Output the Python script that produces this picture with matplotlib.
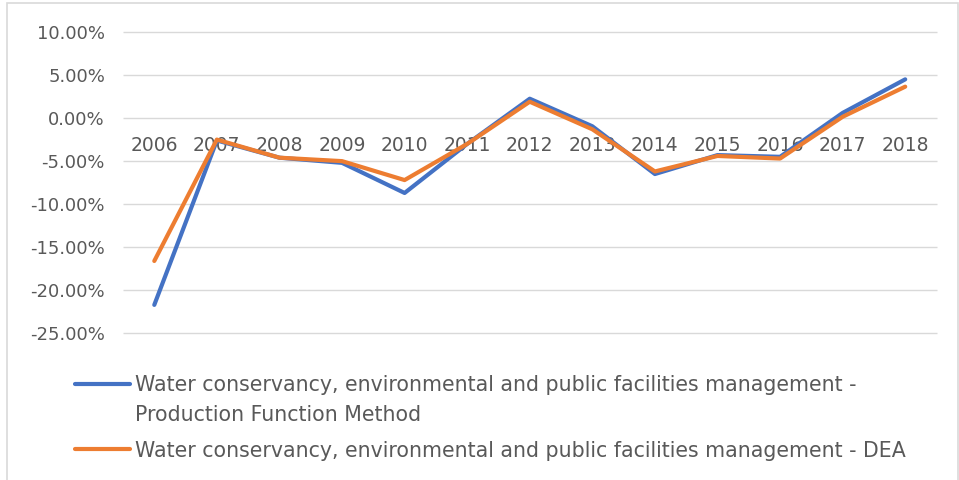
import matplotlib
matplotlib.use("Agg")
import matplotlib.pyplot as plt
from matplotlib.legend_handler import HandlerLine2D
from matplotlib.patches import Rectangle
from matplotlib.ticker import FuncFormatter, MultipleLocator

# Annual change rates (%) by estimation method
years = ["2006", "2007", "2008", "2009", "2010", "2011", "2012",
         "2013", "2014", "2015", "2016", "2017", "2018"]
production_function = [-21.7, -2.6, -4.6, -5.2, -8.7, -3.0, 2.25,
                       -0.95, -6.5, -4.3, -4.5, 0.6, 4.5]
dea = [-16.6, -2.5, -4.6, -5.0, -7.2, -3.0, 1.9,
       -1.3, -6.2, -4.4, -4.7, 0.15, 3.65]

series_labels = [
    "Water conservancy, environmental and public facilities management -\nProduction Function Method",
    "Water conservancy, environmental and public facilities management - DEA",
]

BLUE = "#4472C4"
ORANGE = "#ED7D31"
GRID = "#D9D9D9"
TEXT = "#595959"
FS = 13
LEG_FS = 14.8

plt.rcParams["font.family"] = ["DejaVu Sans"]

fig = plt.figure(figsize=(9.59, 4.80), dpi=100)
fig.patch.set_facecolor("white")

# light chart-area frame
fig.add_artist(Rectangle((7 / 959, -0.05), (958 - 7) / 959, 1.05 - 3 / 480,
                         transform=fig.transFigure, fill=False,
                         edgecolor=GRID, linewidth=1.2))

ax = fig.add_axes([123 / 959, 1 - 333.3 / 480, (936.5 - 123) / 959, (333.3 - 32) / 480])

x = range(len(years))
l1, = ax.plot(x, production_function, color=BLUE, lw=3.0, solid_capstyle="round",
              solid_joinstyle="round", zorder=3)
l2, = ax.plot(x, dea, color=ORANGE, lw=3.0, solid_capstyle="round",
              solid_joinstyle="round", zorder=3)

ax.set_xlim(-0.5, len(years) - 0.5)
ax.set_ylim(-25, 10)
ax.yaxis.set_major_locator(MultipleLocator(5))
ax.yaxis.set_major_formatter(FuncFormatter(lambda v, p: f"{v:.2f}%"))
ax.grid(axis="y", color=GRID, linewidth=1.0)
ax.set_axisbelow(True)
for gl in ax.get_ygridlines():
    gl.set_clip_on(False)
    gl.set_solid_capstyle("butt")

ax.set_xticks(list(x))
ax.set_xticklabels(years)
ax.spines["bottom"].set_position(("data", 0))
for s in ["top", "right", "left", "bottom"]:
    ax.spines[s].set_visible(False)

ax.tick_params(axis="x", length=0, pad=13, labelsize=13.5, labelcolor=TEXT)
ax.tick_params(axis="y", length=0, pad=13, labelsize=FS, labelcolor=TEXT)
for t in ax.get_xticklabels():
    t.set_zorder(1)


class FirstLineHandler(HandlerLine2D):
    """Line handle aligned with the first line of a two-line label."""

    def __init__(self, shift, **kw):
        super().__init__(**kw)
        self.shift = shift

    def create_artists(self, legend, orig_handle, xdescent, ydescent,
                       width, height, fontsize, trans):
        arts = super().create_artists(legend, orig_handle, xdescent, ydescent,
                                      width, height, fontsize, trans)
        for a in arts:
            a.set_ydata([y + self.shift for y in a.get_ydata()])
        return arts


leg = fig.legend([l1, l2], series_labels, loc="upper left",
                 bbox_to_anchor=(75 / 959, 1 - 375 / 480),
                 frameon=False, fontsize=LEG_FS, borderpad=0, borderaxespad=0,
                 handlelength=2.67, handletextpad=0.25, labelspacing=0.78,
                 handler_map={l1: FirstLineHandler(shift=12.2)})
for t in leg.get_texts():
    t.set_color(TEXT)
    t.set_linespacing(1.6)

fig.savefig("out.png", dpi=100, facecolor="white")
